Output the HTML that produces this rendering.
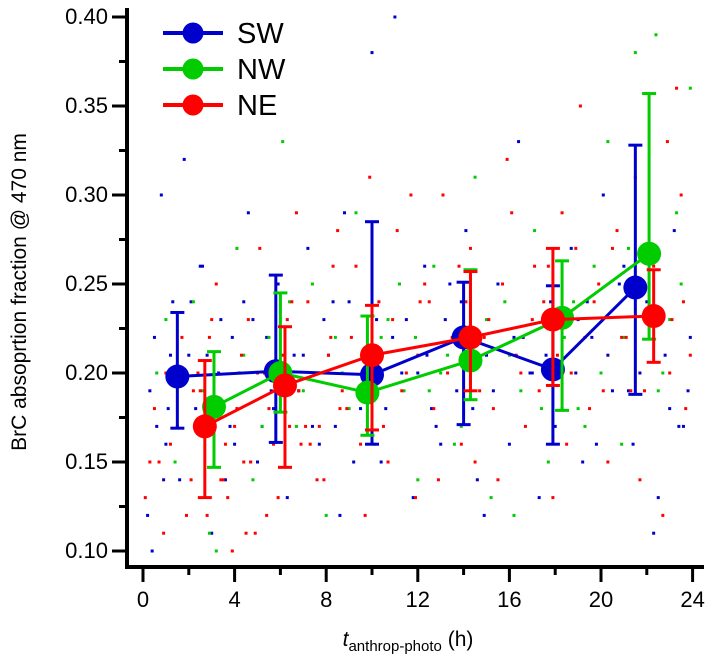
<!DOCTYPE html>
<html><head><meta charset="utf-8"><style>
body{margin:0;background:#fff;}
svg{display:block;font-family:"Liberation Sans",sans-serif;}
</style></head><body>
<svg id="chart" width="714" height="664" viewBox="0 0 714 664">
<g id="scatter"></g>
<g id="axes"></g>
<g id="series"></g>
<g id="legend"></g>
<text transform="translate(26,292) rotate(-90)" text-anchor="middle" font-size="21">BrC absoprtion fraction @ 470 nm</text>
<text x="408" y="646" text-anchor="middle" font-size="21"><tspan font-style="italic">t</tspan><tspan font-size="15" dy="5">anthrop-photo</tspan><tspan dy="-5"> (h)</tspan></text>
</svg>
<script>
const xTicks=[0,4,8,12,16,20,24];
const yTicks=[0.10,0.15,0.20,0.25,0.30,0.35,0.40];
const yTickLabels=["0.10","0.15","0.20","0.25","0.30","0.35","0.40"];
const seriesNames=["SW","NW","NE"];
const seriesColors=["#0000cc","#00cc00","#ff0000"];
const swX=[1.5,5.8,10.0,14.0,17.9,21.5];
const swY=[0.198,0.201,0.199,0.220,0.202,0.248];
const swLo=[0.169,0.161,0.160,0.171,0.160,0.188];
const swHi=[0.234,0.255,0.285,0.251,0.249,0.328];
const nwX=[3.1,6.0,9.8,14.3,18.3,22.1];
const nwY=[0.181,0.200,0.189,0.207,0.231,0.267];
const nwLo=[0.147,0.178,0.165,0.185,0.179,0.219];
const nwHi=[0.212,0.245,0.232,0.258,0.263,0.357];
const neX=[2.7,6.2,10.0,14.3,17.9,22.3];
const neY=[0.170,0.193,0.210,0.220,0.230,0.232];
const neLo=[0.130,0.147,0.168,0.190,0.193,0.206];
const neHi=[0.207,0.226,0.238,0.257,0.270,0.258];
// background scatter (approximate readings)
const swPtsX=[0.2,0.3,0.5,0.8,1.0,1.3,1.6,2.0,2.3,2.6,3.0,3.4,3.8,4.2,4.6,5.0,5.4,5.9,6.3,6.8,7.2,7.7,8.1,8.6,9.0,9.5,10.0,10.4,10.9,11.3,11.8,12.3,12.8,13.2,13.7,14.1,14.6,15.0,15.5,16.0,16.4,16.9,17.3,17.8,18.3,18.7,19.2,19.6,20.1,20.5,21.0,21.4,21.9,22.3,22.8,23.2,23.6,0.4,1.1,2.8,4.4,6.0,7.9,9.2,11.0,12.6,14.9,16.6,18.9,20.8,22.5,23.8,1.8,3.6,5.2,8.8,13.4,19.8,
 0.6,1.2,2.1,3.3,4.0,4.8,5.6,6.6,7.4,8.3,9.7,10.6,11.5,12.4,13.0,13.9,15.3,16.2,17.0,18.0,19.0,20.3,21.2,22.0,23.0,23.9,0.9,2.5,3.9,5.7,7.0,8.4,10.2,12.0,14.4,17.6,19.4,21.7,23.4];
const swPtsY=[0.12,0.19,0.22,0.30,0.16,0.24,0.14,0.21,0.18,0.26,0.11,0.23,0.17,0.20,0.29,0.15,0.22,0.25,0.13,0.19,0.27,0.16,0.21,0.12,0.24,0.18,0.38,0.15,0.22,0.20,0.13,0.26,0.17,0.23,0.19,0.28,0.14,0.21,0.25,0.16,0.33,0.20,0.13,0.24,0.18,0.27,0.15,0.22,0.30,0.19,0.26,0.16,0.23,0.11,0.21,0.28,0.17,0.10,0.18,0.21,0.24,0.19,0.23,0.15,0.40,0.18,0.12,0.22,0.20,0.25,0.13,0.19,0.32,0.14,0.17,0.29,0.25,0.16,
 0.17,0.21,0.24,0.20,0.16,0.23,0.19,0.21,0.17,0.24,0.20,0.18,0.23,0.21,0.16,0.24,0.19,0.22,0.20,0.17,0.23,0.21,0.19,0.24,0.18,0.22,0.14,0.26,0.22,0.18,0.21,0.17,0.23,0.20,0.18,0.21,0.24,0.20,0.17];
const nwPtsX=[0.6,1.4,2.2,2.9,3.5,4.1,4.8,5.5,6.1,6.7,7.4,8.0,8.7,9.3,10.1,10.7,11.4,12.0,12.7,13.3,13.9,14.5,15.2,15.8,16.5,17.1,17.7,18.4,19.0,19.7,20.3,20.9,21.5,22.1,22.7,23.3,23.9,3.2,7.0,11.9,16.2,21.2,22.4,
 1.0,2.6,4.4,5.2,6.4,7.8,9.0,10.4,11.2,12.5,13.6,15.0,16.0,17.4,18.8,20.0,21.0,22.5,23.5,4.7,8.4,13.0,19.3,23.0];
const nwPtsY=[0.20,0.15,0.24,0.11,0.18,0.27,0.14,0.22,0.33,0.17,0.25,0.12,0.20,0.29,0.16,0.23,0.19,0.14,0.26,0.21,0.17,0.31,0.13,0.24,0.19,0.28,0.15,0.22,0.18,0.26,0.33,0.16,0.38,0.24,0.20,0.29,0.36,0.10,0.19,0.22,0.12,0.27,0.39,
 0.23,0.19,0.21,0.17,0.24,0.20,0.18,0.22,0.25,0.19,0.16,0.23,0.21,0.18,0.24,0.20,0.22,0.19,0.25,0.15,0.22,0.20,0.17,0.23];
const nePtsX=[0.1,0.5,0.9,1.2,1.7,2.1,2.5,2.8,3.2,3.6,3.9,4.3,4.7,5.1,5.5,5.9,6.3,6.7,7.1,7.5,7.9,8.3,8.7,9.1,9.5,9.9,10.3,10.7,11.1,11.5,11.9,12.3,12.7,13.1,13.5,13.9,14.3,14.7,15.1,15.5,15.9,16.3,16.7,17.1,17.5,17.9,18.3,18.7,19.1,19.5,19.9,20.3,20.7,21.1,21.5,21.9,22.3,22.7,23.1,23.5,23.9,0.7,1.9,3.0,3.4,4.0,4.9,5.3,6.5,7.3,8.5,9.7,10.5,11.7,12.9,14.1,15.3,16.1,17.3,18.5,19.3,20.5,21.7,22.9,23.7,2.4,4.5,6.9,8.1,12.1,14.5,17.7,20.1,23.3,
 0.3,1.0,1.5,2.2,2.9,3.5,4.1,4.6,5.0,5.7,6.1,6.8,7.2,7.7,8.2,8.9,9.3,10.1,10.9,11.3,12.0,12.5,13.3,13.8,14.9,15.7,16.5,17.0,18.1,18.9,19.7,20.9,21.3,22.1,23.0,23.6,3.7,4.4,5.4,6.4,7.6,8.6];
const nePtsY=[0.13,0.18,0.11,0.16,0.22,0.14,0.19,0.12,0.25,0.16,0.10,0.21,0.15,0.27,0.18,0.13,0.23,0.29,0.17,0.20,0.14,0.26,0.19,0.22,0.16,0.31,0.24,0.15,0.28,0.20,0.13,0.25,0.18,0.30,0.22,0.16,0.27,0.19,0.23,0.14,0.32,0.21,0.17,0.26,0.24,0.13,0.29,0.20,0.35,0.18,0.25,0.15,0.28,0.22,0.31,0.19,0.26,0.12,0.23,0.30,0.21,0.15,0.12,0.23,0.14,0.17,0.11,0.20,0.24,0.16,0.28,0.12,0.17,0.30,0.14,0.24,0.18,0.29,0.19,0.16,0.22,0.27,0.14,0.33,0.18,0.20,0.11,0.16,0.21,0.24,0.15,0.26,0.19,0.36,
 0.15,0.20,0.17,0.19,0.22,0.14,0.18,0.23,0.20,0.16,0.21,0.19,0.24,0.17,0.22,0.18,0.26,0.20,0.23,0.19,0.21,0.24,0.20,0.26,0.22,0.25,0.20,0.23,0.21,0.27,0.24,0.22,0.19,0.25,0.20,0.24,0.13,0.15,0.12,0.17,0.14,0.18];
const X0=143,XS=22.9,Y0=551,YS=534/0.3;
function sx(v){return X0+v*XS;}
function sy(v){return Y0-(v-0.10)*YS;}
const NS="http://www.w3.org/2000/svg";
function mk(tag,attrs,parent){const e=document.createElementNS(NS,tag);for(const k in attrs)e.setAttribute(k,attrs[k]);parent.appendChild(e);return e;}
const sc=document.getElementById('scatter');
[[swPtsX,swPtsY,0],[nwPtsX,nwPtsY,1],[nePtsX,nePtsY,2]].forEach(([xs,ys,c])=>{
 xs.forEach((x,i)=>{const r=mk('rect',{x:sx(x)-1.5,y:sy(ys[i])-1.5,width:3,height:3,fill:seriesColors[c]},sc);
 
 });
});
const ax=document.getElementById('axes');
let l=mk('line',{x1:127,y1:8,x2:127,y2:568,stroke:'#000','stroke-width':4},ax);


l=mk('line',{x1:125,y1:567,x2:704,y2:567,stroke:'#000','stroke-width':4},ax);


xTicks.forEach(t=>{mk('line',{x1:sx(t),y1:569,x2:sx(t),y2:582,stroke:'#000','stroke-width':3},ax);
 const tt=mk('text',{x:sx(t),y:607,'text-anchor':'middle','font-size':22},ax);tt.textContent=t;
 
 
 if(t<24){mk('line',{x1:sx(t+2),y1:569,x2:sx(t+2),y2:575,stroke:'#000','stroke-width':3},ax);}
});
yTicks.forEach((t,i)=>{mk('line',{x1:112,y1:sy(t),x2:126,y2:sy(t),stroke:'#000','stroke-width':3},ax);
 const tt=mk('text',{x:108,y:sy(t)+7,'text-anchor':'end','font-size':22},ax);tt.textContent=yTickLabels[i];
 
 
 if(i<yTicks.length-1){mk('line',{x1:119,y1:sy(t+0.025),x2:126,y2:sy(t+0.025),stroke:'#000','stroke-width':3},ax);}
});
const sr=document.getElementById('series');
const all=[[swX,swY,swLo,swHi],[nwX,nwY,nwLo,nwHi],[neX,neY,neLo,neHi]];
all.forEach(([xs,ys,lo,hi],c)=>{
 const g=mk('g',{},sr);
 
 
 const col=seriesColors[c];
 xs.forEach((x,i)=>{const X=sx(x);
  mk('line',{x1:X,y1:sy(lo[i]),x2:X,y2:sy(hi[i]),stroke:col,'stroke-width':3},g);
  mk('line',{x1:X-7,y1:sy(lo[i]),x2:X+7,y2:sy(lo[i]),stroke:col,'stroke-width':3},g);
  mk('line',{x1:X-7,y1:sy(hi[i]),x2:X+7,y2:sy(hi[i]),stroke:col,'stroke-width':3},g);});
 mk('polyline',{points:xs.map((x,i)=>sx(x)+','+sy(ys[i])).join(' '),fill:'none',stroke:col,'stroke-width':3},g);
 xs.forEach((x,i)=>{const p=mk('circle',{cx:sx(x),cy:sy(ys[i]),r:12,fill:col},g);
  
  });
});
const lg=document.getElementById('legend');
seriesNames.forEach((n,i)=>{const y=33+i*36;
 const g=mk('g',{},lg);
 
 
 mk('line',{x1:163,y1:y,x2:223,y2:y,stroke:seriesColors[i],'stroke-width':4},g);
 mk('circle',{cx:193,cy:y,r:10.5,fill:seriesColors[i]},g);
 const t=mk('text',{x:237,y:y+10,'font-size':29},g);t.textContent=n;});
</script>
</body></html>
